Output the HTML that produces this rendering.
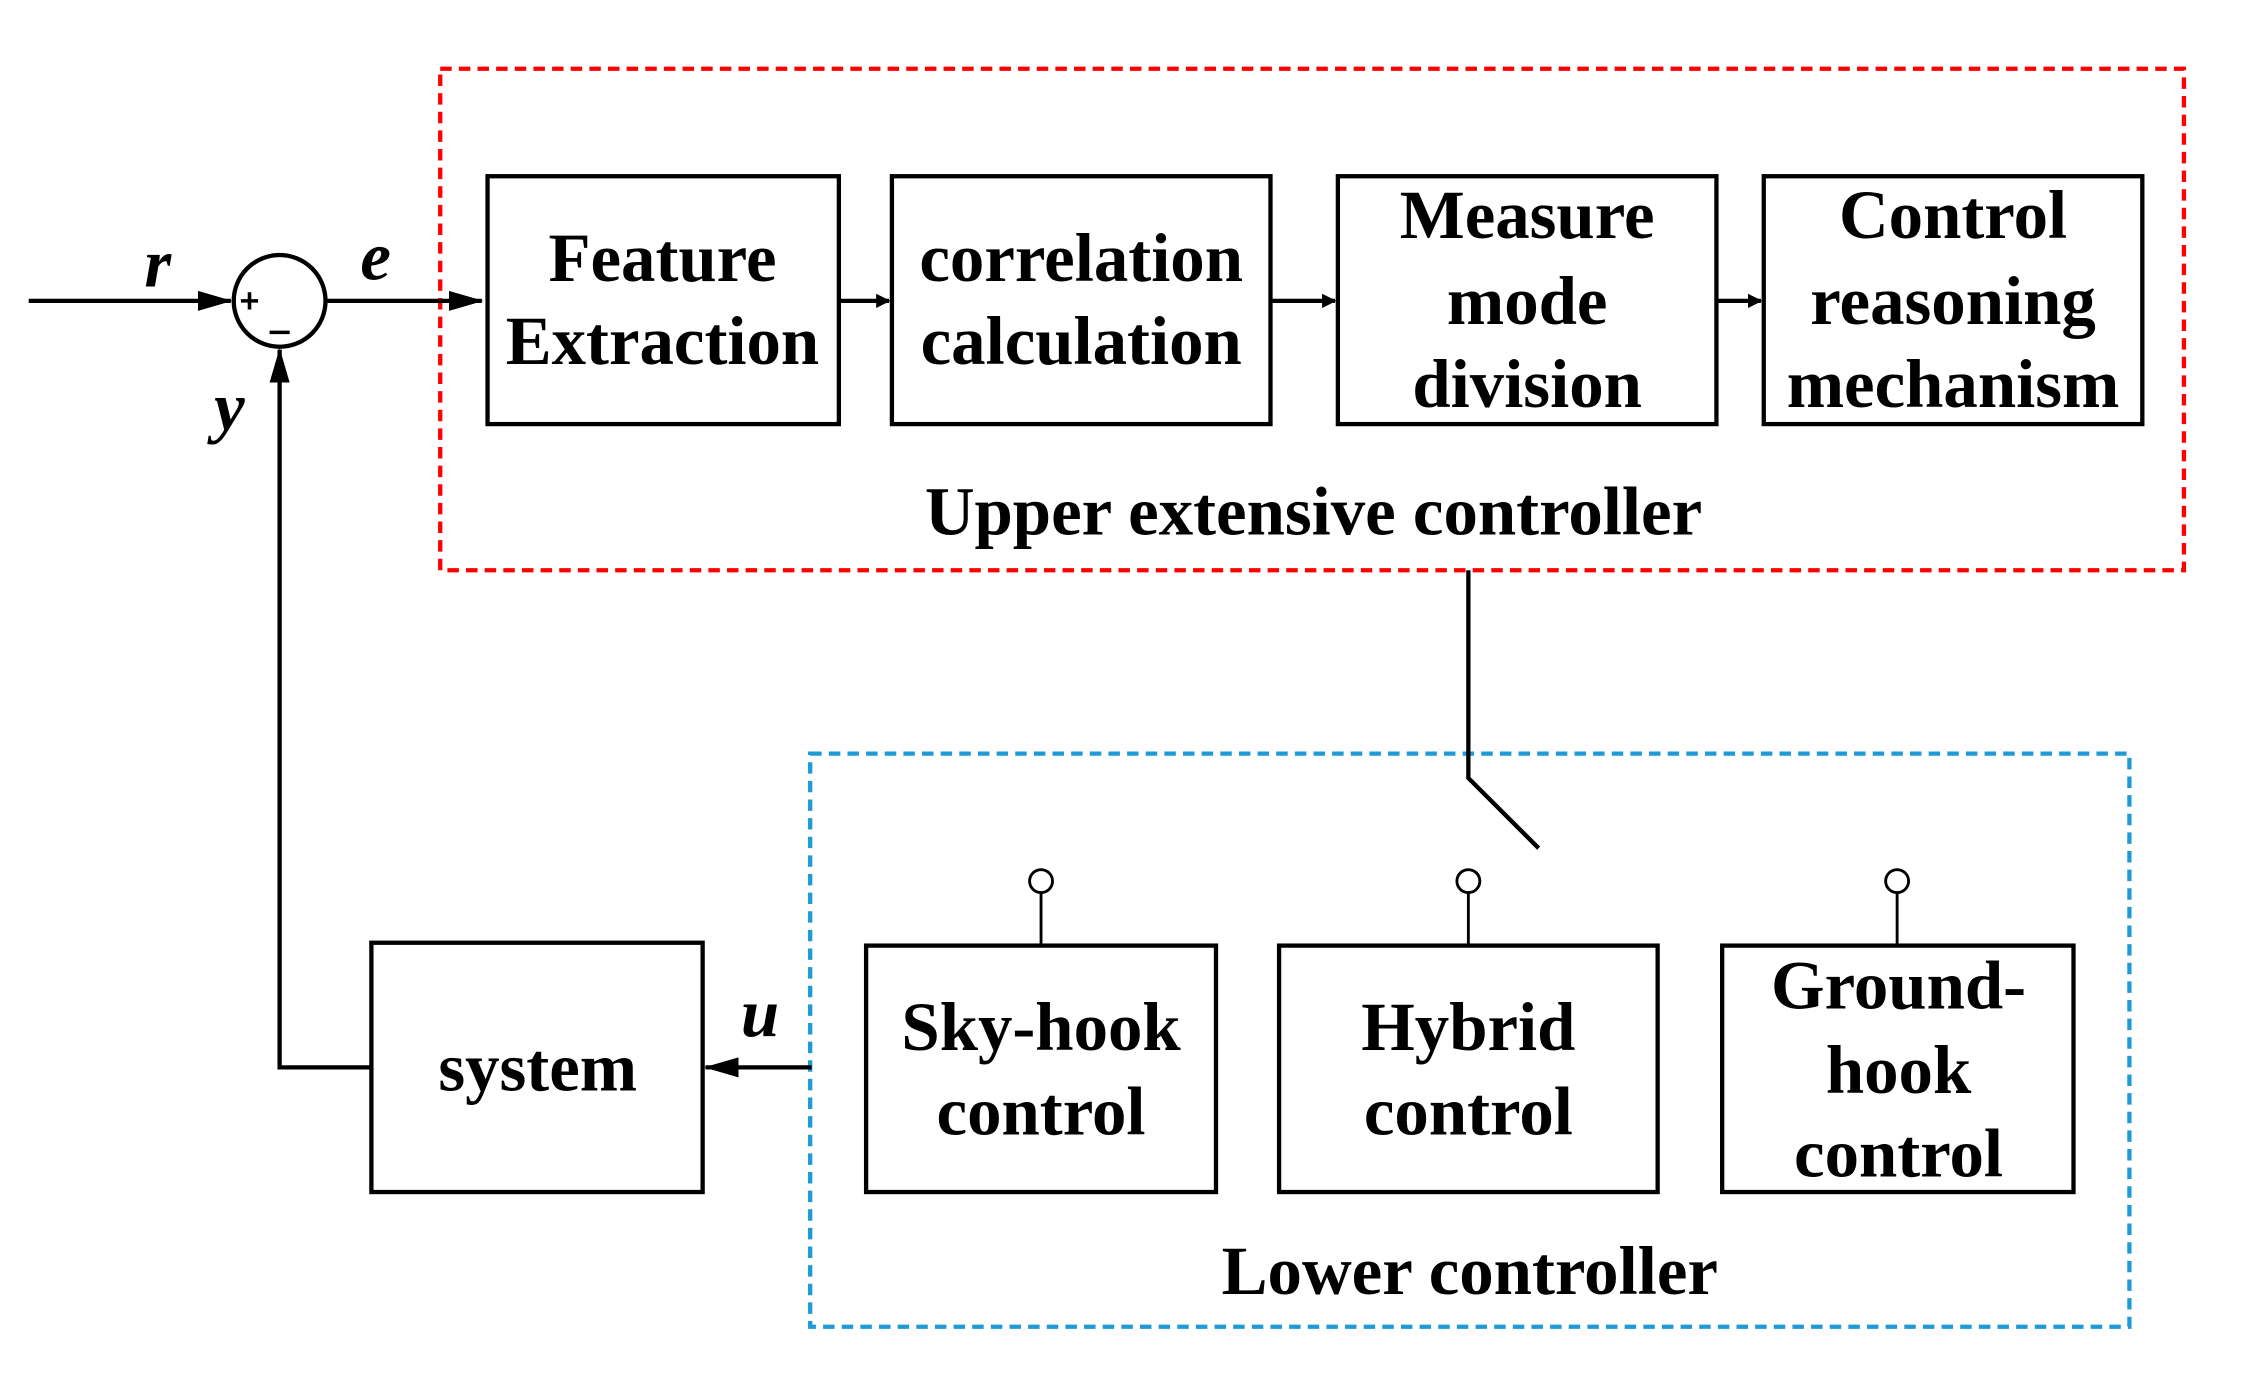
<!DOCTYPE html>
<html><head><meta charset="utf-8"><style>html,body{margin:0;padding:0;background:#fff}svg{display:block}</style></head>
<body>
<svg width="2247" height="1374" viewBox="0 0 1567 959" preserveAspectRatio="none" xmlns="http://www.w3.org/2000/svg">
<defs><marker id="a" markerWidth="10" markerHeight="10" refX="9" refY="5" orient="auto" markerUnits="userSpaceOnUse"><path d="M0,0 L10,5 L0,10 z" fill="#000"/></marker>
<marker id="b" markerWidth="24" markerHeight="14" refX="23" refY="7" orient="auto" markerUnits="userSpaceOnUse"><path d="M0,0 L24,7 L0,14 z" fill="#000"/></marker></defs>
<g font-family="Liberation Serif, serif" font-weight="bold" font-size="48" text-anchor="middle" fill="#000">
<rect x="307" y="48" width="1216" height="350" fill="none" stroke="#f00" stroke-width="3" stroke-dasharray="8,5"/>
<rect x="565" y="526" width="920" height="400" fill="none" stroke="#1e9bd7" stroke-width="3" stroke-dasharray="8,5"/>
<g fill="none" stroke="#000" stroke-width="3">
<rect x="340" y="123" width="245" height="173"/>
<rect x="622" y="123" width="264" height="173"/>
<rect x="933" y="123" width="264" height="173"/>
<rect x="1230" y="123" width="264" height="173"/>
<rect x="259" y="658" width="231" height="174"/>
<rect x="604" y="660" width="244" height="172"/>
<rect x="892" y="660" width="264" height="172"/>
<rect x="1201" y="660" width="245" height="172"/>
<circle cx="195" cy="210" r="32"/>
<circle cx="726" cy="615" r="8" stroke-width="2"/><circle cx="1024" cy="615" r="8" stroke-width="2"/><circle cx="1323" cy="615" r="8" stroke-width="2"/>
<path d="M726 623V660M1024 623V660M1323 623V660" stroke-width="2"/>
<path d="M1024 398V543L1073 592"/>
<path d="M20 210H161" marker-end="url(#b)"/>
<path d="M228 210H336" marker-end="url(#b)"/>
<path d="M585 210H620" marker-end="url(#a)"/>
<path d="M886 210H931" marker-end="url(#a)"/>
<path d="M1197 210H1228" marker-end="url(#a)"/>
<path d="M259 745H195V244" marker-end="url(#b)"/>
<path d="M566 745H492" marker-end="url(#b)"/>
<path d="M168 210H180M174 204V216M188 232H202" stroke-width="2.5"/>
</g>
<g font-style="italic" font-size="48"><text x="110" y="200">r</text><text x="262" y="195">e</text><text x="160" y="300">y</text><text x="530" y="723">u</text></g>
<text x="462" y="196">Feature</text><text x="462" y="254">Extraction</text>
<text x="754" y="196">correlation</text><text x="754" y="254">calculation</text>
<text x="1065" y="166">Measure</text><text x="1065" y="226">mode</text><text x="1065" y="284">division</text>
<text x="1362" y="166">Control</text><text x="1362" y="226">reasoning</text><text x="1362" y="284">mechanism</text>
<text x="916" y="373">Upper extensive controller</text>
<text x="375" y="761">system</text>
<text x="726" y="733">Sky-hook</text><text x="726" y="792">control</text>
<text x="1024" y="733">Hybrid</text><text x="1024" y="792">control</text>
<text x="1324" y="704">Ground-</text><text x="1324" y="763">hook</text><text x="1324" y="821">control</text>
<text x="1025" y="903">Lower controller</text>
</g>
</svg>
</body></html>
